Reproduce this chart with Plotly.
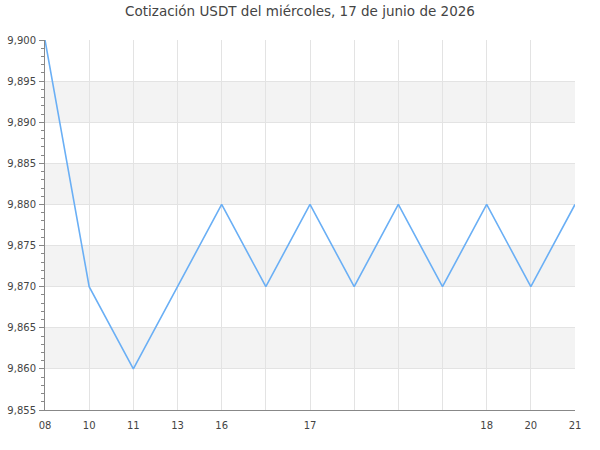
import plotly.graph_objects as go

labels = ["08", "10", "11", "13", "16", "", "17", "", "", "", "18", "20", "21"]
values = [9.900, 9.870, 9.860, 9.870, 9.880, 9.870, 9.880, 9.870, 9.880, 9.870, 9.880, 9.870, 9.880]
y_min, y_max = 9.855, 9.900
bands = [(9.860, 9.865), (9.870, 9.875), (9.880, 9.885), (9.890, 9.895)]

x = list(range(len(values)))

fig = go.Figure()
fig.add_trace(go.Scatter(x=x, y=values, mode="lines",
                         line=dict(color="#6aaff5", width=1.6),
                         hoverinfo="skip"))

shapes = []
for lo, hi in bands:
    shapes.append(dict(type="rect", xref="paper", yref="y", x0=0, x1=1, y0=lo, y1=hi,
                       fillcolor="#f3f3f3", line=dict(width=0), layer="below"))

fig.update_layout(
    width=600, height=450,
    margin=dict(l=45, r=25, t=40, b=40, autoexpand=False),
    paper_bgcolor="white", plot_bgcolor="white",
    separators=",.",
    showlegend=False,
    shapes=shapes,
    title=dict(text="Cotización USDT del miércoles, 17 de junio de 2026",
               x=0.5, xanchor="center", y=1 - 11 / 450, yanchor="middle",
               font=dict(family="DejaVu Sans", size=13.5, color="#444")),
    font=dict(family="DejaVu Sans", size=10, color="#444"),
)
fig.update_xaxes(range=[0, len(values) - 1], tickmode="array", tickvals=x, ticktext=labels,
                 showgrid=True, gridcolor="#e3e3e3", gridwidth=1,
                 showline=True, linecolor="#888", linewidth=1, automargin=False,
                 ticks="", ticklabelstandoff=6, zeroline=False,
                 tickfont=dict(size=10, color="#444"))
fig.update_yaxes(range=[y_min, y_max], dtick=0.005, tick0=9.855, tickformat=".3f",
                 showgrid=True, gridcolor="#e3e3e3", gridwidth=1,
                 showline=True, linecolor="#888", linewidth=1, automargin=False,
                 ticks="outside", ticklen=5, tickcolor="#888", ticklabelstandoff=1,
                 minor=dict(dtick=0.001, ticks="outside", ticklen=3, tickcolor="#888", showgrid=False),
                 zeroline=False, tickfont=dict(size=10, color="#444"))

fig.write_html("out.html", config={"displayModeBar": False},
               post_script="document.body.style.margin='0';")
